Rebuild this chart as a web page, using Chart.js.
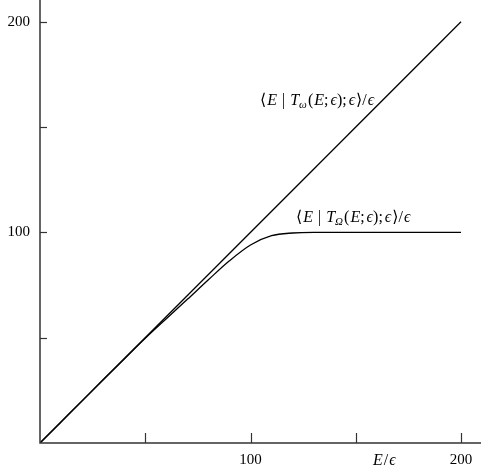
<!DOCTYPE html>
<html lang="en">
<head>
<meta charset="UTF-8">
<title>E over epsilon</title>
<style>
  html, body { margin: 0; padding: 0; background: #ffffff; }
  #wrap { width: 481px; height: 476px; }
</style>
</head>
<body>
<div id="wrap"><canvas id="plot" width="481" height="476"></canvas></div>
<script src="https://cdn.jsdelivr.net/npm/chart.js"></script>
<script>
  // values
  var xOmega = [0, 200];
  var yOmega = [0, 200];
  var xBig = [0, 10, 20, 30, 40, 50, 60, 70, 80, 90, 100, 110, 120, 130, 140, 160, 180, 200];
  var yBig = [0, 10, 20, 30, 39.9, 49.7, 59, 68.2, 77.5, 86.5, 94.0, 98.4, 99.7, 100, 100, 100, 100, 100];
  var xTicks = [50, 100, 150, 200];
  var yTicks = [50, 100, 150, 200];
  var xTickLabels = ['', '100', '', '200'];
  var yTickLabels = ['', '100', '', '200'];

  function pts(xs, ys) {
    return xs.map(function(x, i) { return {x: x, y: ys[i]}; });
  }

  var serif = '"Liberation Serif", "DejaVu Serif", serif';

  // draw a run of pieces: plain, italic, subscript
  function drawMath(ctx, parts, x, y) {
    var cx = x;
    parts.forEach(function(p) {
      var size = p.sub ? 11 : 16;
      ctx.font = (p.it ? 'italic ' : '') + size + 'px ' + serif;
      ctx.fillText(p.t, cx, p.sub ? y + 3 : y);
      cx += ctx.measureText(p.t).width + (p.gap || 0);
    });
  }

  function label(sub) {
    return [
      {t: '\u27E8', gap: 1}, {t: 'E', it: true, gap: 5}, {t: '|', gap: 5},
      {t: 'T', it: true}, {t: sub, it: true, sub: true, gap: 1}, {t: '(', gap: 1}, {t: 'E', it: true},
      {t: ';', gap: 2}, {t: '\u03F5', it: true}, {t: ');', gap: 2}, {t: '\u03F5', it: true, gap: 1},
      {t: '\u27E9/', gap: 1}, {t: '\u03F5', it: true}
    ];
  }

  var axesPlugin = {
    id: 'axesPlugin',
    afterDraw: function(chart) {
      var ctx = chart.ctx;
      var xs = chart.scales.x, ys = chart.scales.y;
      var a = chart.chartArea;
      ctx.save();
      ctx.strokeStyle = '#333';
      ctx.lineWidth = 1.5;
      ctx.beginPath();
      ctx.moveTo(a.left, a.top);
      ctx.lineTo(a.left, a.bottom);
      ctx.lineTo(a.right, a.bottom);
      ctx.stroke();
      ctx.lineWidth = 1.2;
      xTicks.forEach(function(v) {
        var px = Math.round(xs.getPixelForValue(v)) + 0.5;
        ctx.beginPath();
        ctx.moveTo(px, a.bottom);
        ctx.lineTo(px, a.bottom - 10);
        ctx.stroke();
      });
      yTicks.forEach(function(v) {
        var py = Math.round(ys.getPixelForValue(v)) + 0.5;
        ctx.beginPath();
        ctx.moveTo(a.left, py);
        ctx.lineTo(a.left + 7, py);
        ctx.stroke();
      });
      ctx.fillStyle = '#000';
      ctx.font = '15px ' + serif;
      ctx.textBaseline = 'middle';
      ctx.textAlign = 'center';
      xTicks.forEach(function(v, i) {
        ctx.fillText(xTickLabels[i], xs.getPixelForValue(v), a.bottom + 17);
      });
      ctx.textAlign = 'right';
      yTicks.forEach(function(v, i) {
        ctx.fillText(yTickLabels[i], a.left - 10, ys.getPixelForValue(v));
      });
      // axis title
      ctx.textAlign = 'left';
      ctx.textBaseline = 'alphabetic';
      drawMath(ctx, [{t: 'E', it: true, gap: 1}, {t: '/', gap: 1}, {t: '\u03F5', it: true}], 373, a.bottom + 22);
      // curve labels
      drawMath(ctx, label('\u03C9'), 260, 105);
      drawMath(ctx, label('\u03A9'), 296, 222);
      ctx.restore();
    }
  };

  new Chart(document.getElementById('plot'), {
    type: 'scatter',
    data: {
      datasets: [{
        data: pts(xOmega, yOmega),
        showLine: true,
        borderColor: '#000',
        borderWidth: 1.3,
        pointRadius: 0
      }, {
        data: pts(xBig, yBig),
        showLine: true,
        cubicInterpolationMode: 'monotone',
        borderColor: '#000',
        borderWidth: 1.3,
        pointRadius: 0
      }]
    },
    options: {
      responsive: false,
      animation: false,
      layout: { padding: { left: 40, top: 0, right: 0, bottom: 33 } },
      scales: {
        x: { type: 'linear', min: 0, max: 209.5, display: false },
        y: { type: 'linear', min: 0, max: 210.3, display: false }
      },
      plugins: { legend: { display: false }, tooltip: { enabled: false } }
    },
    plugins: [axesPlugin]
  });
</script>
</body>
</html>
